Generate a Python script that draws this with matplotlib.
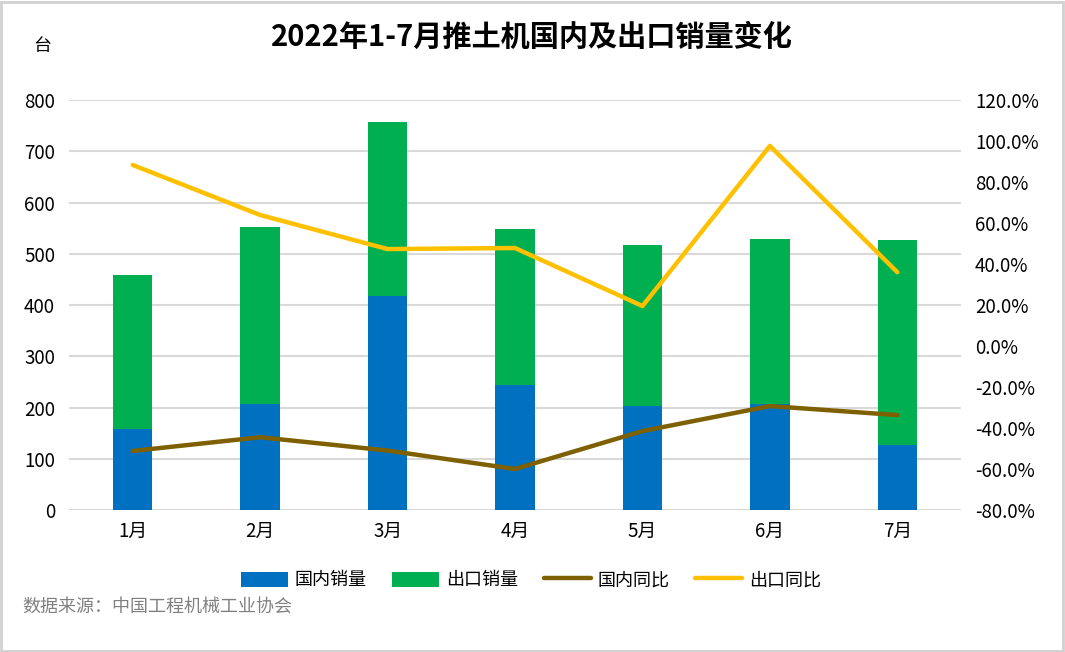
import matplotlib
matplotlib.use("Agg")
import numpy as np
import matplotlib.pyplot as plt
import matplotlib.ticker as mticker
from matplotlib.patches import Rectangle

plt.rcParams['font.family'] = ['Noto Sans CJK SC', 'DejaVu Sans']

# data
months = ['1月', '2月', '3月', '4月', '5月', '6月', '7月']
domestic = [158, 207, 418, 243, 202, 207, 127]
export = [300, 345, 339, 305, 315, 322, 400]
domestic_yoy = [-51.2, -44.5, -51.0, -60.0, -41.5, -29.3, -33.7]
export_yoy = [88.3, 63.9, 47.3, 47.8, 19.5, 97.6, 36.0]

c_blue = '#0070C0'
c_green = '#00B050'
c_brown = '#7F6000'
c_yellow = '#FFC000'

fig = plt.figure(figsize=(10.65, 6.52), dpi=100)
ax = fig.add_axes([0.0648, 0.2178, 0.8376, 0.6288])
ax2 = ax.twinx()

x = np.arange(len(months))
w = 0.31
ax.bar(x, domestic, w, color=c_blue, label='国内销量', zorder=3)
ax.bar(x, export, w, bottom=domestic, color=c_green, label='出口销量', zorder=3)

ax2.plot(x, domestic_yoy, color=c_brown, lw=3.2, label='国内同比', solid_capstyle='round')
ax2.plot(x, export_yoy, color=c_yellow, lw=3.2, label='出口同比', solid_capstyle='round')

ax.set_xlim(-0.5, len(months) - 0.5)
ax.set_ylim(0, 800)
ax.set_yticks(range(0, 801, 100))
ax2.set_ylim(-80, 120)
ax2.set_yticks(range(-80, 121, 20))
ax2.yaxis.set_major_formatter(mticker.FuncFormatter(lambda v, p: f'{v:.1f}%'))

ax.set_xticks(x)
ax.set_xticklabels(months)
ax.grid(axis='y', color='#d9d9d9', lw=1.5, zorder=0)
for a in (ax, ax2):
	for s in a.spines.values():
		s.set_visible(False)
	a.tick_params(length=0, labelsize=13.5, colors='black')
ax.tick_params(axis='y', pad=10)
ax.tick_params(axis='x', pad=8)
ax2.tick_params(axis='y', pad=10)

fig.text(0.4995, 0.944, '2022年1-7月推土机国内及出口销量变化', ha='center', va='center',
	fontsize=21, fontweight='bold')
fig.text(0.040, 0.930, '台', ha='center', va='center', fontsize=13)
fig.text(0.021, 0.069, '数据来源：中国工程机械工业协会', ha='left', va='center',
	fontsize=13, color='#808080')

h1, l1 = ax.get_legend_handles_labels()
h2, l2 = ax2.get_legend_handles_labels()
fig.legend(h1 + h2, l1 + l2, loc='center', bbox_to_anchor=(0.4986, 0.110), ncol=4,
	frameon=False, fontsize=13, handlelength=2.6, handleheight=0.9,
	columnspacing=1.4, handletextpad=0.4)

fig.patches.append(Rectangle((0.001, 0.002), 0.997, 0.995, transform=fig.transFigure,
	fill=False, edgecolor='#d0d0d0', lw=2))

fig.savefig('out.png', dpi=100)
